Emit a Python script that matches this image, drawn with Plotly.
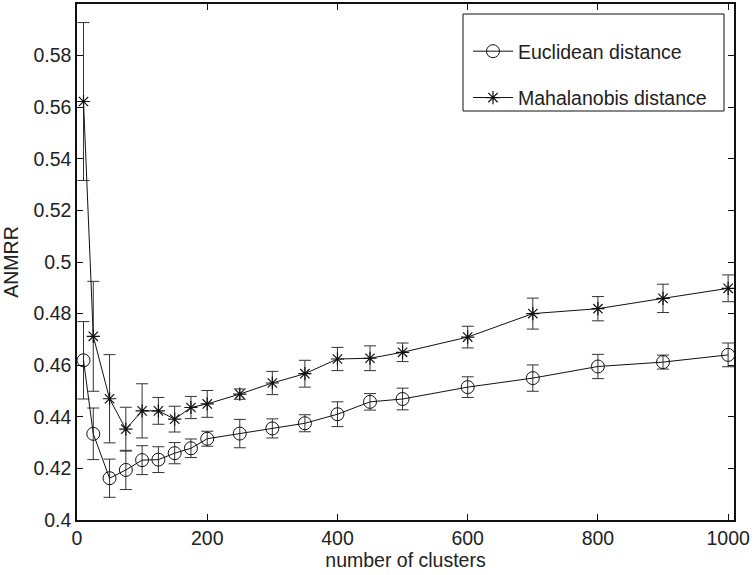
import plotly.graph_objects as go

clusters = [10, 25, 50, 75, 100, 125, 150, 175, 200, 250, 300, 350, 400, 450, 500, 600, 700, 800, 900, 1000]

euclid = [0.4619, 0.4334, 0.4162, 0.4194, 0.4232, 0.4234, 0.4259, 0.4278, 0.4315, 0.4335,
          0.4355, 0.4375, 0.4410, 0.4458, 0.4469, 0.4515, 0.4550, 0.4595, 0.4612, 0.4640]
euclid_err = [0.0150, 0.0100, 0.0074, 0.0076, 0.0056, 0.0050, 0.0041, 0.0036, 0.0029, 0.0055,
              0.0037, 0.0033, 0.0048, 0.0032, 0.0042, 0.0040, 0.0051, 0.0047, 0.0027, 0.0046]

mahal = [0.5622, 0.4712, 0.4470, 0.4352, 0.4423, 0.4423, 0.4391, 0.4436, 0.4450, 0.4488,
         0.4531, 0.4567, 0.4624, 0.4627, 0.4650, 0.4709, 0.4800, 0.4819, 0.4859, 0.4898]
mahal_err = [0.0306, 0.0213, 0.0171, 0.0085, 0.0105, 0.0052, 0.0050, 0.0043, 0.0052, 0.0020,
             0.0045, 0.0052, 0.0045, 0.0048, 0.0036, 0.0042, 0.0060, 0.0047, 0.0055, 0.0052]

y_ticks = [0.4, 0.42, 0.44, 0.46, 0.48, 0.5, 0.52, 0.54, 0.56, 0.58]
y_tick_labels = ["0.4", "0.42", "0.44", "0.46", "0.48", "0.5", "0.52", "0.54", "0.56", "0.58"]
x_ticks = [0, 200, 400, 600, 800, 1000]
x_tick_labels = ["0", "200", "400", "600", "800", "1000"]

FONT = "Liberation Sans, Arial, Helvetica, sans-serif"
INK = "#111111"
TXT = "#222222"
FS = 19.5

W, H = 753, 575
ML, MR, MT, MB = 77, 19, 4, 55
PW, PH = W - ML - MR, H - MT - MB


def px_to_paper_x(px):
    return (px - ML) / PW


def px_to_paper_y(py):
    return (H - MB - py) / PH


fig = go.Figure()
fig.add_trace(go.Scatter(
    x=clusters, y=euclid, name="Euclidean distance", mode="lines+markers",
    line=dict(color=INK, width=1),
    marker=dict(symbol="circle-open", size=13, color=INK, line=dict(width=1, color=INK)),
    error_y=dict(type="data", array=euclid_err, visible=True, color="#333333", thickness=1, width=6),
    legendgroup="a",
))
fig.add_trace(go.Scatter(
    x=clusters, y=mahal, name="Mahalanobis distance", mode="lines+markers",
    line=dict(color=INK, width=1),
    marker=dict(symbol="asterisk-open", size=11, color=INK, line=dict(width=1.2, color=INK)),
    error_y=dict(type="data", array=mahal_err, visible=True, color="#333333", thickness=1, width=6),
    legendgroup="b",
))

axis_common = dict(
    showline=True, linecolor=INK, linewidth=1.5, mirror="ticks",
    ticks="inside", ticklen=6, tickcolor=INK, tickwidth=1,
    showgrid=False, zeroline=False, automargin=False,
    tickfont=dict(family=FONT, size=FS, color=TXT),
)

fig.update_xaxes(range=[0, 1009], tickvals=x_ticks, ticktext=x_tick_labels,
                 title=dict(text="number of clusters", font=dict(family=FONT, size=FS, color=TXT), standoff=2),
                 **axis_common)
fig.update_yaxes(range=[0.4, 0.6], tickvals=y_ticks, ticktext=y_tick_labels,
                 title=dict(text="ANMRR", font=dict(family=FONT, size=FS, color=TXT), standoff=11),
                 **axis_common)

# legend frame (drawn as a shape so its padding matches the original)
fig.add_shape(type="rect", xref="paper", yref="paper",
              x0=px_to_paper_x(463), x1=px_to_paper_x(724),
              y0=px_to_paper_y(111), y1=px_to_paper_y(14),
              line=dict(color=INK, width=1), fillcolor="white", layer="above")

fig.update_layout(
    width=W, height=H,
    margin=dict(l=ML, r=MR, t=MT, b=MB, autoexpand=False),
    paper_bgcolor="white", plot_bgcolor="white",
    font=dict(family=FONT, size=FS, color=TXT),
    showlegend=True,
    legend=dict(
        x=px_to_paper_x(468), y=px_to_paper_y(32), xanchor="left", yanchor="top",
        bgcolor="rgba(0,0,0,0)", borderwidth=0,
        font=dict(family=FONT, size=FS, color=TXT),
        traceorder="grouped", tracegroupgap=18,
        itemwidth=40,
    ),
)

fig.write_html("out.html", config={"displayModeBar": False},
               post_script="document.body.style.margin='0px';")
